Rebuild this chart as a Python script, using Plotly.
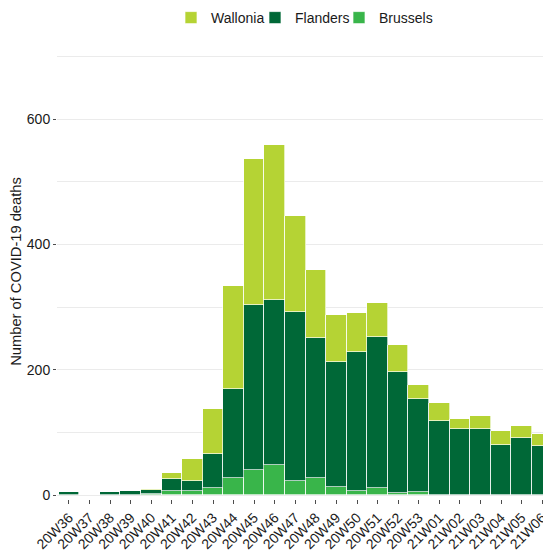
import plotly.graph_objects as go

weeks = ["20W36", "20W37", "20W38", "20W39", "20W40", "20W41", "20W42", "20W43",
         "20W44", "20W45", "20W46", "20W47", "20W48", "20W49", "20W50", "20W51",
         "20W52", "20W53", "21W01", "21W02", "21W03", "21W04", "21W05", "21W06"]

brussels = [0, 0, 1, 1, 2, 7, 7, 11, 28, 40, 48, 23, 27, 14, 7, 11, 4, 5, 1, 0, 0, 0, 0, 0]
flanders = [5, 0, 5, 6, 6, 19, 16, 55, 141, 264, 263, 270, 224, 199, 221, 241, 193, 148, 118, 105, 105, 81, 92, 79]
wallonia = [0, 0, 0, 0, 2, 9, 35, 72, 165, 232, 247, 152, 108, 75, 62, 54, 43, 23, 29, 17, 21, 21, 18, 19]

y_tick_vals = [0, 200, 400, 600]

FONT = "Liberation Sans, Arial, sans-serif"
line = dict(color="rgba(255,255,255,0.85)", width=0.8)

fig = go.Figure()
# empty spacer entry (last in the reversed legend) so the final label is not clipped
fig.add_trace(go.Bar(x=[weeks[0]], y=[None], name=" ",
                     marker=dict(color="rgba(0,0,0,0)", line=dict(width=0)),
                     hoverinfo="skip"))
fig.add_trace(go.Bar(x=weeks, y=brussels, name="Brussels", marker=dict(color="#39B54A", line=line)))
fig.add_trace(go.Bar(x=weeks, y=flanders, name="Flanders", marker=dict(color="#006837", line=line)))
fig.add_trace(go.Bar(x=weeks, y=wallonia, name="Wallonia", marker=dict(color="#B5D334", line=line)))

W, H = 543, 542
fig.update_layout(
    width=W, height=H,
    barmode="stack", bargap=0.0,
    plot_bgcolor="white", paper_bgcolor="white",
    margin=dict(l=49, r=0, t=36, b=51),
    font=dict(family=FONT, size=14, color="#1a1a1a"),
    legend=dict(orientation="h", traceorder="reversed", x=0.5 + 35 / 494, xanchor="center",
                yref="container", y=1 - 10 / H, yanchor="middle",
                entrywidth=39, entrywidthmode="pixels",
                font=dict(size=14, color="#1a1a1a"), itemclick=False),
    xaxis=dict(type="category", range=[-0.583, 23.43], tickangle=-45,
               ticks="outside", ticklen=4, tickcolor="#4d4d4d", tickwidth=1,
               showgrid=False, zeroline=False, automargin=False,
               tickfont=dict(size=14, color="#1a1a1a")),
    yaxis=dict(range=[-5.9, 719.8], tickvals=y_tick_vals,
               ticks="outside", ticklen=3, tickcolor="#4d4d4d", tickwidth=1,
               showgrid=True, gridcolor="#EBEBEB", gridwidth=1,
               minor=dict(dtick=100, tick0=0, showgrid=True, gridcolor="#EBEBEB", gridwidth=1),
               zeroline=False, automargin=False,
               title=dict(text="Number of COVID-19 deaths", font=dict(size=14.7, color="#1a1a1a")),
               tickfont=dict(size=14, color="#1a1a1a")),
)

fig.write_html("out.html")
